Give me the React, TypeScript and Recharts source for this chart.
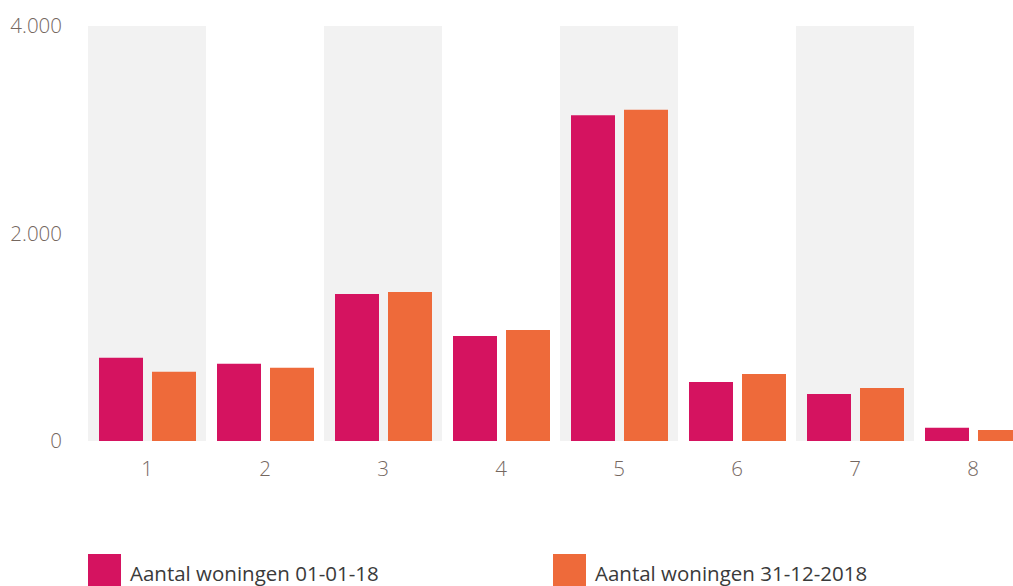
import React from "react";
import { BarChart, Bar, XAxis, YAxis, ReferenceArea } from "recharts";

const categories = ["1", "2", "3", "4", "5", "6", "7", "8"];
const series2018Start = [803, 745, 1417, 1012, 3139, 569, 453, 128];
const series2018End = [668, 707, 1436, 1070, 3193, 646, 511, 106];
const seriesNames = ["Aantal woningen 01-01-18", "Aantal woningen 31-12-2018"];
const shadedCategories = ["1", "3", "5", "7"];
const yTicks = [0, 2000, 4000];

const PINK = "#D51360";
const ORANGE = "#EE6A3A";
const colors = [PINK, ORANGE];

const data = categories.map((c, i) => ({
  cat: c,
  a: series2018Start[i],
  b: series2018End[i],
}));

const fmt = (v: number) => v.toLocaleString("de-DE");

export default function App() {
  const font = "'Open Sans', sans-serif";
  const tickStyle = { fill: "#75675F", fontSize: 20.5, fontWeight: 300, fontFamily: font };
  return (
    <div
      style={{
        position: "fixed",
        left: 0,
        top: 0,
        width: 1013,
        height: 586,
        overflow: "hidden",
        background: "#fff",
        fontFamily: font,
      }}
    >
      <BarChart
        width={1032}
        height={586}
        data={data}
        margin={{ top: 26, right: 0, bottom: 0, left: 0 }}
        barSize={44}
        barGap={9}
      >
        {shadedCategories.map((c) => (
          <ReferenceArea key={c} x1={c} x2={c} fill="#F2F2F2" fillOpacity={1} stroke="none" ifOverflow="visible" />
        ))}
        <XAxis
          dataKey="cat"
          axisLine={false}
          tickLine={false}
          tickSize={0}
          tickMargin={20}
          height={145}
          interval={0}
          tick={tickStyle}
        />
        <YAxis
          width={88}
          domain={[0, 4000]}
          ticks={yTicks}
          axisLine={false}
          tickLine={false}
          tickSize={0}
          tickMargin={26}
          tickFormatter={fmt}
          tick={tickStyle}
        />
        <Bar dataKey="a" name={seriesNames[0]} fill={PINK} isAnimationActive={false} />
        <Bar dataKey="b" name={seriesNames[1]} fill={ORANGE} isAnimationActive={false} />
      </BarChart>
      {seriesNames.map((n, i) => (
        <div
          key={n}
          style={{
            position: "absolute",
            left: i === 0 ? 88 : 553,
            top: 554,
            display: "flex",
            alignItems: "center",
            fontSize: 20.5,
            color: "#3A3A3A",
            fontFamily: font,
          }}
        >
          <div style={{ width: 33, height: 33, background: colors[i], marginRight: 9 }} />
          <span style={{ lineHeight: "33px", position: "relative", top: 3 }}>{n}</span>
        </div>
      ))}
    </div>
  );
}
